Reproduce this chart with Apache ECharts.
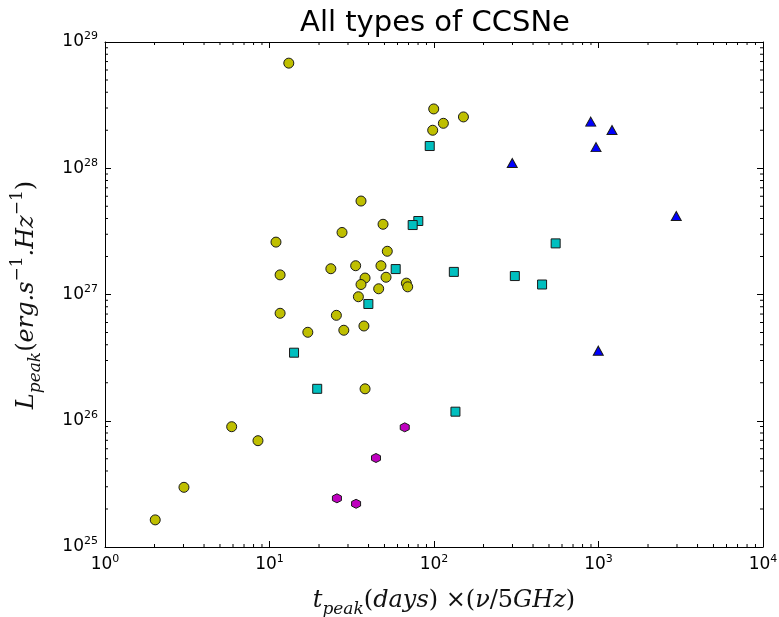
<!DOCTYPE html>
<html><head><meta charset="utf-8">
<script src="https://cdn.jsdelivr.net/npm/echarts@6/dist/echarts.min.js"></script>
<style>html,body{margin:0;padding:0;background:#fff}#c{width:779px;height:617px}</style>
</head><body><div id="c"></div>
<script>
// ---- data ----
const yellowX = [13.1, 99.6, 114, 98.2, 151, 36.0, 49.0, 27.6, 10.95, 52.0, 23.6, 33.4, 47.6, 11.6, 38.1, 51.1, 36.0, 67.9, 69.2, 46.1, 34.7, 11.6, 25.5, 37.5, 28.3, 17.1, 38.1, 5.89, 8.51, 3.02, 2.02];
const yellowY = [6.8e28, 2.95e28, 2.27e28, 2.0e28, 2.55e28, 5.5e27, 3.6e27, 3.1e27, 2.6e27, 2.2e27, 1.6e27, 1.69e27, 1.69e27, 1.43e27, 1.35e27, 1.37e27, 1.2e27, 1.23e27, 1.15e27, 1.11e27, 9.6e26, 7.1e26, 6.84e26, 5.63e26, 5.21e26, 5.02e26, 1.79e26, 8.97e25, 6.95e25, 2.97e25, 1.64e25];
const cyanX = [94.2, 80.3, 74.2, 58.5, 39.9, 14.1, 19.5, 549, 132, 310, 454, 135];
const cyanY = [1.5e28, 3.82e27, 3.55e27, 1.59e27, 8.41e26, 3.46e26, 1.79e26, 2.54e27, 1.51e27, 1.40e27, 1.20e27, 1.18e26];
const blueX = [897, 1208, 966, 299, 2970, 997];
const blueY = [2.34e28, 2.01e28, 1.47e28, 1.10e28, 4.19e27, 3.59e26];
const magentaX = [66.4, 44.4, 25.7, 33.6];
const magentaY = [8.87e25, 5.07e25, 2.43e25, 2.20e25];

const xRange = [1, 10000];
const yRange = [1e25, 1e29];
const minorMultipliers = [2, 3, 4, 5, 6, 7, 8, 9];
const xDecades = [1, 10, 100, 1000];
const yDecades = [1e25, 1e26, 1e27, 1e28];

const titleText = 'All types of CCSNe';
const xLabelRich = '{i|t}{sub|peak}{r|(}{i|days}{r|) ×(}{i|ν}{r|/5}{i|GHz}{r|)}';
const yLabelRich = '{i|L}{sub|peak}{r|(}{i|erg.s}{sup|−1}{i|.Hz}{sup|−1}{r|)}';

// ---- chart ----
const pairs = (xs, ys) => xs.map((x, i) => [x, ys[i]]);
const xMinor = [], yMinor = [];
xDecades.forEach(d => minorMultipliers.forEach(m => xMinor.push(d * m)));
yDecades.forEach(d => minorMultipliers.forEach(m => yMinor.push(d * m)));

const expFmt = v => '{b|10}{s|' + Math.round(Math.log10(v)) + '}';
const tickRich = {
  b: {fontFamily: 'DejaVu Sans', fontSize: 17, lineHeight: 22, color: '#000'},
  s: {fontFamily: 'DejaVu Sans', fontSize: 11, lineHeight: 11, padding: [0, 0, 11, 0], color: '#000'}
};
const serif = 'DejaVu Serif';
const mathRich = {
  i: {fontFamily: serif, fontStyle: 'italic', fontSize: 24, lineHeight: 30, fill: '#111', color: '#111'},
  r: {fontFamily: serif, fontSize: 24, lineHeight: 30, fill: '#111', color: '#111'},
  sub: {fontFamily: serif, fontStyle: 'italic', fontSize: 17, lineHeight: 17, padding: [18, 0, 0, 0], fill: '#111', color: '#111'},
  sup: {fontFamily: serif, fontSize: 17, lineHeight: 17, padding: [0, 0, 18, 0], fill: '#111', color: '#111'}
};

const axisCommon = {
  type: 'log', logBase: 10,
  axisLine: {show: true, onZero: false, lineStyle: {color: '#000', width: 1}},
  axisTick: {show: true, inside: true, length: 6, lineStyle: {color: '#000', width: 1}},
  splitLine: {show: false},
  minorTick: {show: false}
};

const chart = echarts.init(document.getElementById('c'), null, {renderer: 'canvas'});
const hexagon = 'path://M0,-1 L0.866,-0.5 L0.866,0.5 L0,1 L-0.866,0.5 L-0.866,-0.5 Z';
const edge = {borderColor: '#1a1a1a', borderWidth: 1};

chart.setOption({
  animation: false,
  backgroundColor: '#fff',
  grid: {left: 105, right: 16, top: 42, bottom: 70, containLabel: false, outerBoundsMode: 'none'},
  xAxis: [
    Object.assign({}, axisCommon, {position: 'bottom', min: xRange[0], max: xRange[1],
      axisLabel: {show: true, margin: 7, formatter: expFmt, rich: tickRich}}),
    Object.assign({}, axisCommon, {position: 'top', min: xRange[0], max: xRange[1], axisLabel: {show: false}})
  ],
  yAxis: [
    Object.assign({}, axisCommon, {position: 'left', min: yRange[0], max: yRange[1],
      axisLabel: {show: true, margin: 7, formatter: expFmt, rich: tickRich}}),
    Object.assign({}, axisCommon, {position: 'right', min: yRange[0], max: yRange[1], axisLabel: {show: false}})
  ],
  graphic: [
    {type: 'text', silent: true, style: {text: titleText, x: 435, y: 23, align: 'center', verticalAlign: 'middle',
      fontFamily: 'DejaVu Sans', fontSize: 29, fill: '#000'}},
    {type: 'text', silent: true, style: {text: xLabelRich, rich: mathRich, x: 444, y: 601, align: 'center', verticalAlign: 'middle', fill: '#111'}},
    {type: 'text', silent: true, rotation: Math.PI / 2, x: 27, y: 295,
      style: {text: yLabelRich, rich: mathRich, x: 0, y: 0, align: 'center', verticalAlign: 'middle', fill: '#111'}}
  ],
  series: [
    {type: 'custom', coordinateSystem: 'cartesian2d', clip: false, silent: true, z: 5,
      data: [[xRange[0], yRange[0]]],
      renderItem: function (params, api) {
        const lb = api.coord([xRange[0], yRange[0]]);
        const rt = api.coord([xRange[1], yRange[1]]);
        const children = [];
        const ls = {stroke: '#000', lineWidth: 1};
        xMinor.forEach(v => {
          const p = api.coord([v, yRange[0]]);
          children.push({type: 'line', shape: {x1: p[0], y1: lb[1], x2: p[0], y2: lb[1] - 3}, style: ls});
          children.push({type: 'line', shape: {x1: p[0], y1: rt[1], x2: p[0], y2: rt[1] + 3}, style: ls});
        });
        yMinor.forEach(v => {
          const p = api.coord([xRange[0], v]);
          children.push({type: 'line', shape: {x1: lb[0], y1: p[1], x2: lb[0] + 3, y2: p[1]}, style: ls});
          children.push({type: 'line', shape: {x1: rt[0], y1: p[1], x2: rt[0] - 3, y2: p[1]}, style: ls});
        });
        return {type: 'group', children: children};
      }},
    {type: 'scatter', name: 'yellow', data: pairs(yellowX, yellowY), symbol: 'circle', symbolSize: 10,
      itemStyle: Object.assign({color: '#bfbf00', opacity: 1}, edge), z: 2},
    {type: 'scatter', name: 'cyan', data: pairs(cyanX, cyanY), symbol: 'rect', symbolSize: 9,
      itemStyle: Object.assign({color: '#00bfbf', opacity: 1}, edge), z: 3},
    {type: 'scatter', name: 'blue', data: pairs(blueX, blueY), symbol: 'triangle', symbolSize: [10, 9],
      itemStyle: Object.assign({color: '#0000ff', opacity: 1}, edge), z: 4},
    {type: 'scatter', name: 'magenta', data: pairs(magentaX, magentaY), symbol: hexagon, symbolSize: 9,
      itemStyle: Object.assign({color: '#bf00bf', opacity: 1}, edge), z: 4}
  ]
});
</script></body></html>
